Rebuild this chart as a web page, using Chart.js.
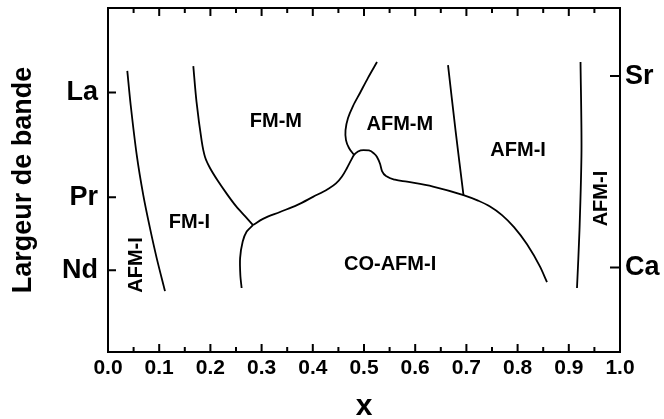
<!DOCTYPE html>
<html>
<head>
<meta charset="utf-8">
<script src="https://cdn.jsdelivr.net/npm/chart.js@4.4.1/dist/chart.umd.min.js"></script>
<style>
    html, body { margin: 0; padding: 0; background: #fff; }
    #wrap { width: 664px; height: 419px; position: relative; }
</style>
</head>
<body>
<div id="wrap"><canvas id="phase"></canvas></div>
<script>
// axe x : dopage, axe y : largeur de bande (unites arbitraires 0-10)
var xMin = 0, xMax = 1, xStep = 0.05;
var yMin = 0, yMax = 10;

var leftTickValues = [2.38, 4.50, 7.54];
var leftTickLabels = ["Nd", "Pr", "La"];
var rightTickValues = [2.46, 8.02];
var rightTickLabels = ["Ca", "Sr"];

// frontieres de phase
var afmFmX = [0.0377, 0.0443, 0.0561, 0.0689, 0.0820, 0.0951, 0.1113];
var afmFmY = [8.17, 7.18, 5.73, 4.56, 3.60, 2.73, 1.77];

var fmmFmiX = [0.1666, 0.1729, 0.1830, 0.1895, 0.1992, 0.2148, 0.2324, 0.2500, 0.2676, 0.2832];
var fmmFmiY = [8.31, 7.27, 6.13, 5.67, 5.35, 4.97, 4.59, 4.24, 3.95, 3.69];

var fmiCoX = [0.2832, 0.2709, 0.2631, 0.2580, 0.2585, 0.2610];
var fmiCoY = [3.69, 3.50, 3.21, 2.73, 2.23, 1.86];

var coX = [0.2832, 0.3027, 0.3359, 0.3691, 0.4004, 0.4297, 0.4453, 0.4570, 0.4668, 0.4746, 0.4805,
           0.4883, 0.4990, 0.5098, 0.5195, 0.5254, 0.5313, 0.5352, 0.5449, 0.5605, 0.5840,
           0.6348, 0.6943, 0.7227, 0.7461, 0.7695, 0.7930, 0.8184, 0.8438, 0.8574];
var coY = [3.69, 3.87, 4.07, 4.27, 4.51, 4.74, 4.90, 5.10, 5.35, 5.57, 5.73,
           5.83, 5.87, 5.86, 5.77, 5.67, 5.47, 5.26, 5.10, 5.01, 4.95,
           4.81, 4.56, 4.40, 4.23, 3.98, 3.63, 3.13, 2.48, 2.03];

var fmmAfmmX = [0.4805, 0.4707, 0.4648, 0.4639, 0.4688, 0.4785, 0.4922, 0.5078, 0.5254];
var fmmAfmmY = [5.73, 5.93, 6.16, 6.45, 6.80, 7.15, 7.53, 7.97, 8.43];

var afmmAfmiX = [0.6641, 0.6787, 0.6943];
var afmmAfmiY = [8.34, 6.45, 4.56];

var afmiRightX = [0.9229, 0.9248, 0.9209, 0.9160];
var afmiRightY = [8.43, 5.87, 3.55, 1.86];

// noms des phases
var regionText = ["FM-M", "AFM-M", "AFM-I", "FM-I", "CO-AFM-I", "AFM-I", "AFM-I"];
var regionX = [0.328, 0.570, 0.801, 0.159, 0.551, 0.0547, 0.963];
var regionY = [6.69, 6.60, 5.87, 3.76, 2.53, 2.53, 4.46];
var regionVertical = [false, false, false, false, false, true, true];

var FONT = "'Liberation Sans', Arial, sans-serif";

function isMajor(v)
{
    return Math.round(v / xStep) % 2 === 0;
}

function curve(xs, ys, mode)
{
    return {
        data: xs.map(function(x, i) { return {x: x, y: ys[i]}; }),
        showLine: true,
        borderColor: "#000",
        borderWidth: 1.8,
        pointRadius: 0,
        tension: 0.3,
        cubicInterpolationMode: mode || "default",
        fill: false
    };
}

var phaseFrame = {
    id: "phaseFrame",
    afterDraw: function(chart)
    {
        var ctx = chart.ctx;
        var a = chart.chartArea;
        var sx = chart.scales.x, sy = chart.scales.y, sy2 = chart.scales.y2;

        ctx.save();
        ctx.strokeStyle = "#000";
        ctx.lineWidth = 2;
        ctx.strokeRect(a.left, a.top, a.right - a.left, a.bottom - a.top);

        ctx.beginPath();
        sx.ticks.forEach(function(t)
        {
            var px = sx.getPixelForValue(t.value);
            var len = isMajor(t.value) ? 8 : 5;
            ctx.moveTo(px, a.bottom);
            ctx.lineTo(px, a.bottom - len);
            ctx.moveTo(px, a.top);
            ctx.lineTo(px, a.top + len);
        });
        sy.ticks.forEach(function(t)
        {
            var py = sy.getPixelForValue(t.value);
            ctx.moveTo(a.left, py);
            ctx.lineTo(a.left + 8, py);
        });
        sy2.ticks.forEach(function(t)
        {
            var py = sy2.getPixelForValue(t.value);
            ctx.moveTo(a.right, py);
            ctx.lineTo(a.right - 10, py);
        });
        ctx.stroke();

        ctx.fillStyle = "#000";
        ctx.font = "bold 20px " + FONT;
        ctx.textAlign = "center";
        ctx.textBaseline = "middle";
        regionText.forEach(function(txt, i)
        {
            ctx.save();
            ctx.translate(sx.getPixelForValue(regionX[i]), sy.getPixelForValue(regionY[i]));
            if (regionVertical[i])
                ctx.rotate(-Math.PI / 2);
            ctx.fillText(txt, 0, 0);
            ctx.restore();
        });
        ctx.restore();
    }
};

new Chart(document.getElementById("phase").getContext("2d"), {
    type: "scatter",
    data: {
        datasets: [
            curve(afmFmX, afmFmY),
            curve(fmmFmiX, fmmFmiY),
            curve(fmiCoX, fmiCoY),
            curve(coX, coY, "monotone"),
            curve(fmmAfmmX, fmmAfmmY),
            curve(afmmAfmiX, afmmAfmiY),
            curve(afmiRightX, afmiRightY)
        ]
    },
    options: {
        responsive: true,
        maintainAspectRatio: false,
        animation: false,
        layout: { padding: { top: 8, left: 0, right: 0, bottom: 0 } },
        plugins: { legend: { display: false }, tooltip: { enabled: false } },
        scales: {
            x: {
                type: "linear",
                position: "bottom",
                min: xMin,
                max: xMax,
                grid: { display: false, drawTicks: false },
                border: { display: false },
                ticks: {
                    stepSize: xStep,
                    autoSkip: false,
                    maxRotation: 0,
                    padding: 4,
                    color: "#000",
                    font: { family: FONT, size: 21, weight: "bold" },
                    callback: function(v) { return isMajor(v) ? v.toFixed(1) : ""; }
                },
                title: {
                    display: true,
                    text: "x",
                    color: "#000",
                    font: { family: FONT, size: 30, weight: "bold", lineHeight: 1 },
                    padding: { top: 0, bottom: -3 }
                },
                afterFit: function(s) { s.height = 67; s.paddingLeft = 0; s.paddingRight = 0; }
            },
            y: {
                type: "linear",
                position: "left",
                min: yMin,
                max: yMax,
                grid: { display: false, drawTicks: false },
                border: { display: false },
                afterBuildTicks: function(s) { s.ticks = leftTickValues.map(function(v) { return {value: v}; }); },
                ticks: {
                    padding: 10,
                    color: "#000",
                    font: { family: FONT, size: 27, weight: "bold" },
                    callback: function(v, i) { return leftTickLabels[i]; }
                },
                title: {
                    display: true,
                    text: "Largeur de bande",
                    color: "#000",
                    font: { family: FONT, size: 27, weight: "bold", lineHeight: 1 },
                    padding: { top: 10, bottom: 0 }
                },
                afterFit: function(s) { s.width = 108; s.paddingTop = 0; s.paddingBottom = 0; }
            },
            y2: {
                type: "linear",
                position: "right",
                min: yMin,
                max: yMax,
                grid: { display: false, drawTicks: false },
                border: { display: false },
                afterBuildTicks: function(s) { s.ticks = rightTickValues.map(function(v) { return {value: v}; }); },
                ticks: {
                    padding: 5,
                    color: "#000",
                    font: { family: FONT, size: 27, weight: "bold" },
                    callback: function(v, i) { return rightTickLabels[i]; }
                },
                afterFit: function(s) { s.width = 44; s.paddingTop = 0; s.paddingBottom = 0; }
            }
        }
    },
    plugins: [phaseFrame]
});
</script>
</body>
</html>
